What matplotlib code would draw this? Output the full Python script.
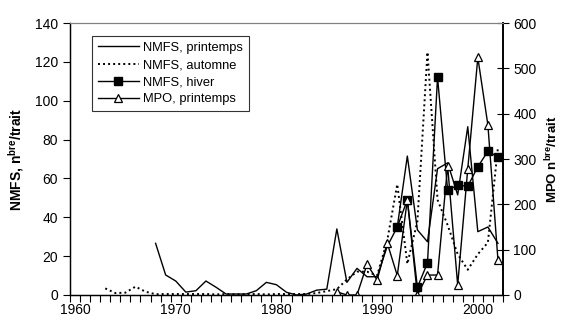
import numpy as np
import matplotlib
matplotlib.use("Agg")
import matplotlib.pyplot as plt

plt.rcParams["font.family"] = ["Liberation Sans", "DejaVu Sans"]

# ─────────────────────────────────────────
# Data
# ─────────────────────────────────────────
years_print = list(range(1968, 2003))
nmfs_print = [26.6, 10.3, 7.2, 1.5, 2.2, 7.2, 4.0, 0.5, 0.5, 0.5, 2.2, 6.5, 5.3, 1.4, 0.0,
              0.5, 2.5, 3.0, 34.0, 6.5, 13.7, 9.4, 9.4, 25.0, 35.0, 71.5, 33.5, 27.4,
              65.0, 68.0, 51.5, 86.6, 32.6, 35.0, 26.6]

years_aut = list(range(1963, 2003))
nmfs_aut = [3.4, 1.0, 1.2, 4.3, 1.7, 0.4, 0.5, 0.5, 0.5, 0.5, 0.5, 0.3, 0.5, 0.3, 0.5,
            0.5, 0.3, 0.5, 0.5, 0.5, 0.5, 1.0, 2.0, 3.0, 8.0, 12.0, 12.0, 10.0, 28.0,
            57.0, 16.0, 38.0, 125.0, 49.0, 36.0, 21.0, 13.0, 21.0, 27.0, 76.0]

years_hiv = list(range(1992, 2003))
nmfs_hiv = [35.0, 49.0, 4.0, 16.5, 112.0, 54.0, 56.5, 56.0, 66.0, 74.0, 71.0]

years_mpo = list(range(1986, 2003))
mpo_print = [7.0, 0.0, 0.0, 68.0, 33.0, 115.0, 43.0, 210.0, 0.0, 44.0, 44.0, 285.0,
             22.0, 278.0, 524.0, 375.0, 77.0]

xtick_years = [1960, 1970, 1980, 1990, 2000]

# ─────────────────────────────────────────
# Figure
# ─────────────────────────────────────────
fig = plt.figure(figsize=(5.63, 3.24), dpi=100)
ax = fig.add_axes([70 / 563, 1 - 295 / 324, 433 / 563, 272 / 324])
ax2 = ax.twinx()

lw = 1.0
h1, = ax.plot(years_print, nmfs_print, color="black", linewidth=lw, label="NMFS, printemps")
h2, = ax.plot(years_aut, nmfs_aut, color="black", linewidth=1.4, linestyle=(0, (1, 1.6)),
              label="NMFS, automne")
h3, = ax.plot(years_hiv, nmfs_hiv, color="black", linewidth=lw, marker="s", markersize=6,
              markerfacecolor="black", label="NMFS, hiver")
h4, = ax2.plot(years_mpo, mpo_print, color="black", linewidth=lw, marker="^", markersize=5.5,
               markerfacecolor="white", markeredgecolor="black", markeredgewidth=0.9,
               label="MPO, printemps")

ax.set_xlim(1959.5, 2002.5)
ax.set_ylim(0, 140)
ax2.set_ylim(0, 600)

ax.set_xticks(xtick_years)
ax.set_xticks(np.arange(1959.5, 2003, 1), minor=True)
ax.tick_params(axis="x", which="major", length=0, labelsize=10, pad=6)
ax.tick_params(axis="x", which="minor", length=5, direction="out", width=0.8)
ax.set_yticks(np.arange(0, 141, 20))
ax.tick_params(axis="y", length=5, direction="out", labelsize=10, width=0.8)
ax2.set_yticks(np.arange(0, 601, 100))
ax2.tick_params(axis="y", length=8, direction="inout", labelsize=10, width=0.8)

for a in (ax, ax2):
    a.spines["top"].set_color("#808080")
    a.spines["left"].set_linewidth(0.9)
    a.spines["right"].set_linewidth(1.2)
    a.spines["bottom"].set_linewidth(0.9)

ax.set_ylabel("NMFS, n$^{\\mathregular{bre}}$/trait", fontsize=10, fontweight="bold")
ax.yaxis.set_label_coords(-44 / 433, 0.5)
ax2.set_ylabel("MPO n$^{\\mathregular{bre}}$/trait", fontsize=9.5, fontweight="bold")
ax2.yaxis.set_label_coords(474 / 433, 0.5)

leg = ax2.legend(handles=[h1, h2, h3, h4], loc="upper left",
                 bbox_to_anchor=(22 / 433, (295 - 36) / 272), borderaxespad=0,
                 fontsize=9.3, frameon=True, fancybox=False, handlelength=3.2,
                 labelspacing=0.4, borderpad=0.45, handletextpad=0.3)
leg.get_frame().set_edgecolor("black")
leg.get_frame().set_linewidth(0.8)

fig.savefig("out.png", dpi=100)
